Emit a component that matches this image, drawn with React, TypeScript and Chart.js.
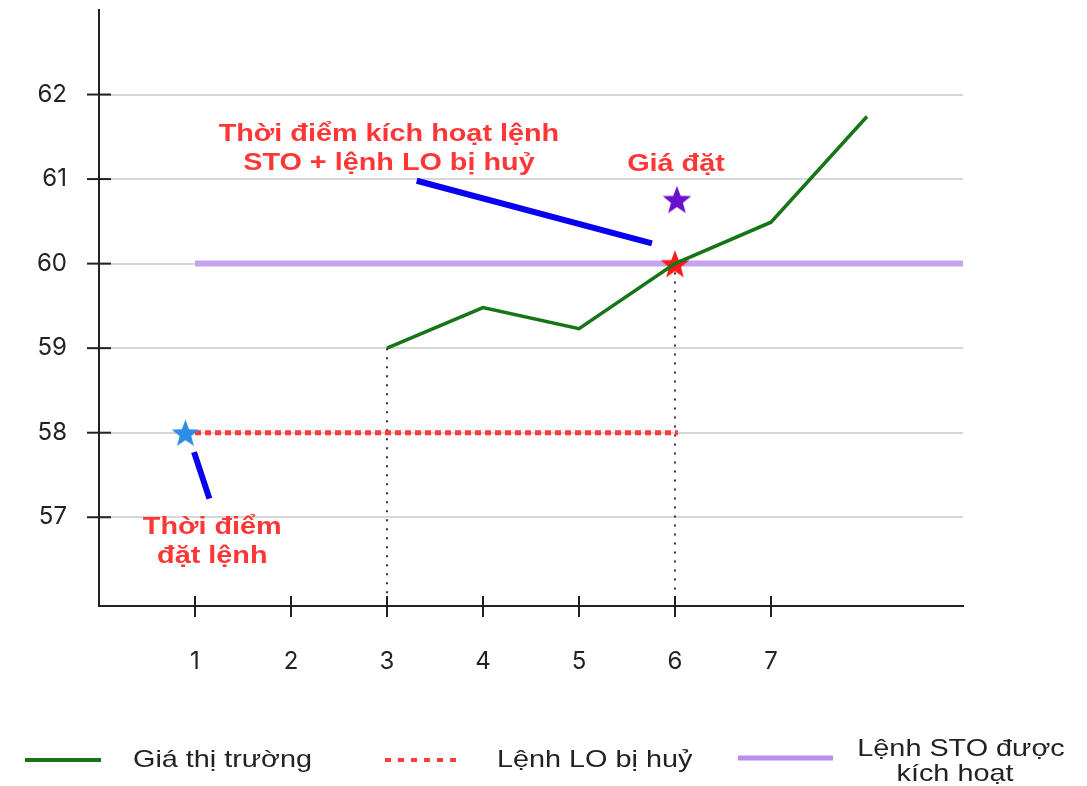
import React, { useEffect, useRef } from "react";
import { Chart, registerables } from "chart.js";

Chart.register(...registerables);

// ---- data ----
const xTickValues = [1, 2, 3, 4, 5, 6, 7];
const yTickValues = [57, 58, 59, 60, 61, 62];
const xRange = [0, 9];
const yRange = [55.95, 63];

const marketX = [3, 4, 5, 6, 7, 8];
const marketY = [59, 59.48, 59.23, 60, 60.49, 61.74];

const loLineX = [1, 6.03];
const loLineY = [58, 58];

const stoLineX = [1, 9];
const stoLineY = [60, 60];

const dropLine1X = [3, 3];
const dropLine1Y = [59, 55.95];
const dropLine2X = [6, 6];
const dropLine2Y = [60, 55.95];

const orderStar = { x: 0.9, y: 58 };
const triggerStar = { x: 6, y: 60 };
const setPriceStar = { x: 6.02, y: 60.76 };

const pointer1X = [3.31, 5.76];
const pointer1Y = [60.98, 60.24];
const pointer2X = [0.99, 1.15];
const pointer2Y = [57.77, 57.22];

const noteTrigger = ["Thời điểm kích hoạt lệnh", "STO + lệnh LO bị huỷ"];
const noteTriggerPos = { x: 3.02, y: 61.45 };
const notePrice = ["Giá đặt"];
const notePricePos = { x: 6.01, y: 61.1 };
const noteOrder = ["Thời điểm", "đặt lệnh"];
const noteOrderPos = { x: 1.18, y: 56.8 };

const legendLabels = [["Giá thị trường"], ["Lệnh LO bị huỷ"], ["Lệnh STO được", "kích hoạt"]];

const GREEN = "#167516";
const RED_DASH = "#ff3b3b";
const LAVENDER = "#c6a2ec";
const BLUE = "#0a00f0";
const NOTE_RED = "#ff3636";

const pts = (xs: number[], ys: number[]) => xs.map((x, i) => ({ x, y: ys[i] }));

function makeStar(color: string, R: number): HTMLCanvasElement {
  const s = Math.ceil(R * 2) + 2;
  const c = document.createElement("canvas");
  c.width = s;
  c.height = s;
  const ctx = c.getContext("2d")!;
  const cx = s / 2;
  const cy = s / 2 + R * 0.1;
  const r = R * 0.42;
  ctx.beginPath();
  for (let i = 0; i < 10; i++) {
    const ang = -Math.PI / 2 + (i * Math.PI) / 5;
    const rad = i % 2 === 0 ? R : r;
    const px = cx + rad * Math.cos(ang);
    const py = cy + rad * Math.sin(ang);
    if (i === 0) ctx.moveTo(px, py);
    else ctx.lineTo(px, py);
  }
  ctx.closePath();
  ctx.fillStyle = color;
  ctx.fill();
  return c;
}

function stretchedText(ctx: CanvasRenderingContext2D, t: string, x: number, y: number, align: CanvasTextAlign, sx = 1.2) {
  ctx.save();
  ctx.translate(x, y);
  ctx.scale(sx, 1);
  ctx.textAlign = align;
  ctx.textBaseline = "alphabetic";
  ctx.fillText(t, 0, 0);
  ctx.restore();
}

const overlayPlugin = {
  id: "overlay",
  afterDraw(chart: any) {
    const ctx: CanvasRenderingContext2D = chart.ctx;
    const xs = chart.scales.x;
    const ys = chart.scales.y;
    const area = chart.chartArea;

    // tick marks crossing the axes
    ctx.save();
    ctx.strokeStyle = "#222";
    ctx.lineWidth = 2;
    yTickValues.forEach((v) => {
      const py = ys.getPixelForValue(v);
      ctx.beginPath();
      ctx.moveTo(area.left - 12, py);
      ctx.lineTo(area.left + 12, py);
      ctx.stroke();
    });
    xTickValues.forEach((v) => {
      const px = xs.getPixelForValue(v);
      ctx.beginPath();
      ctx.moveTo(px, area.bottom - 10);
      ctx.lineTo(px, area.bottom + 11);
      ctx.stroke();
    });
    ctx.restore();

    // red annotations
    ctx.save();
    ctx.fillStyle = NOTE_RED;
    ctx.font = 'bold 24px "Liberation Sans", Arial, sans-serif';
    const drawNote = (lines: string[], pos: { x: number; y: number }, gap: number) => {
      const px = xs.getPixelForValue(pos.x);
      const py = ys.getPixelForValue(pos.y);
      lines.forEach((t, i) => stretchedText(ctx, t, px, py + i * gap, "center", 1.2));
    };
    drawNote(noteTrigger, noteTriggerPos, 29);
    drawNote(notePrice, notePricePos, 28);
    drawNote(noteOrder, noteOrderPos, 29);
    ctx.restore();

    // legend
    ctx.save();
    ctx.lineCap = "butt";
    ctx.strokeStyle = GREEN;
    ctx.lineWidth = 4;
    ctx.beginPath();
    ctx.moveTo(25, 760);
    ctx.lineTo(101, 760);
    ctx.stroke();
    ctx.strokeStyle = RED_DASH;
    ctx.lineWidth = 4;
    ctx.setLineDash([6, 7]);
    ctx.beginPath();
    ctx.moveTo(385, 760);
    ctx.lineTo(462, 760);
    ctx.stroke();
    ctx.setLineDash([]);
    ctx.strokeStyle = "#b98ef0";
    ctx.lineWidth = 5;
    ctx.beginPath();
    ctx.moveTo(738, 758);
    ctx.lineTo(833, 758);
    ctx.stroke();

    ctx.fillStyle = "#222";
    ctx.font = '24px "Liberation Sans", Arial, sans-serif';
    stretchedText(ctx, legendLabels[0][0], 133, 767, "left");
    stretchedText(ctx, legendLabels[1][0], 497, 767, "left");
    stretchedText(ctx, legendLabels[2][0], 961, 756, "center");
    stretchedText(ctx, legendLabels[2][1], 955, 781, "center");
    ctx.restore();
  },
};

export default function App() {
  const ref = useRef<HTMLCanvasElement>(null);

  useEffect(() => {
    if (!ref.current) return;
    const purpleStar = makeStar("#6a10cf", 15);
    const redStar = makeStar("#ff1a1a", 15);
    const blueStar = makeStar("#2c8ce6", 14.5);

    const lineDs = (label: string, data: any[], color: string, width: number, dash: number[] = []) => ({
      label,
      data,
      showLine: true,
      borderColor: color,
      backgroundColor: color,
      borderWidth: width,
      borderDash: dash,
      pointRadius: 0,
      tension: 0,
      fill: false,
      borderCapStyle: "butt" as const,
    });
    const starDs = (label: string, p: { x: number; y: number }, img: HTMLCanvasElement) => ({
      label,
      data: [p],
      showLine: false,
      pointStyle: img,
      pointRadius: 10,
      borderWidth: 0,
    });

    const chart = new Chart(ref.current, {
      type: "scatter",
      data: {
        datasets: [
          lineDs("pointer1", pts(pointer1X, pointer1Y), BLUE, 6),
          lineDs("pointer2", pts(pointer2X, pointer2Y), BLUE, 6),
          starDs("setPrice", setPriceStar, purpleStar),
          lineDs("Giá thị trường", pts(marketX, marketY), GREEN, 3.5),
          starDs("trigger", triggerStar, redStar),
          lineDs("Lệnh STO được kích hoạt", pts(stoLineX, stoLineY), LAVENDER, 6),
          starDs("order", orderStar, blueStar),
          lineDs("Lệnh LO bị huỷ", pts(loLineX, loLineY), RED_DASH, 5, [6, 4]),
          lineDs("drop1", pts(dropLine1X, dropLine1Y), "#333", 2, [2, 7]),
          lineDs("drop2", pts(dropLine2X, dropLine2Y), "#333", 2, [2, 7]),
        ] as any,
      },
      options: {
        animation: false,
        responsive: false,
        devicePixelRatio: 1,
        layout: { padding: { top: 5, right: 124, left: 0, bottom: 0 } },
        plugins: {
          legend: { display: false },
          tooltip: { enabled: false },
          title: { display: false },
        },
        scales: {
          x: {
            type: "linear",
            min: xRange[0],
            max: xRange[1],
            afterBuildTicks: (s: any) => {
              s.ticks = xTickValues.map((v) => ({ value: v }));
            },
            afterFit: (s: any) => {
              s.height = 180;
              s.paddingLeft = 0;
              s.paddingRight = 0;
            },
            grid: { display: false, drawTicks: false },
            border: { display: true, color: "#222", width: 2 },
            ticks: {
              padding: 41,
              color: "#222",
              font: { family: "Inter, 'Liberation Sans', sans-serif", size: 24 },
              maxRotation: 0,
              callback: (v: any) => String(v),
            },
          },
          y: {
            type: "linear",
            min: yRange[0],
            max: yRange[1],
            afterBuildTicks: (s: any) => {
              s.ticks = yTickValues.map((v) => ({ value: v }));
            },
            afterFit: (s: any) => {
              s.width = 99;
              s.paddingTop = 0;
              s.paddingBottom = 0;
            },
            grid: { display: true, drawTicks: false, color: "#d6d6d6", lineWidth: 2 },
            border: { display: true, color: "#222", width: 2 },
            ticks: {
              padding: 32,
              color: "#222",
              font: { family: "Inter, 'Liberation Sans', sans-serif", size: 24 },
              callback: (v: any) => String(v),
            },
          },
        },
      },
      plugins: [overlayPlugin],
    });
    return () => chart.destroy();
  }, []);

  return (
    <div style={{ position: "absolute", left: 0, top: 0, width: 1087, height: 786, background: "#fff" }}>
      <canvas ref={ref} width={1087} height={786} style={{ display: "block", width: 1087, height: 786 }} />
    </div>
  );
}
